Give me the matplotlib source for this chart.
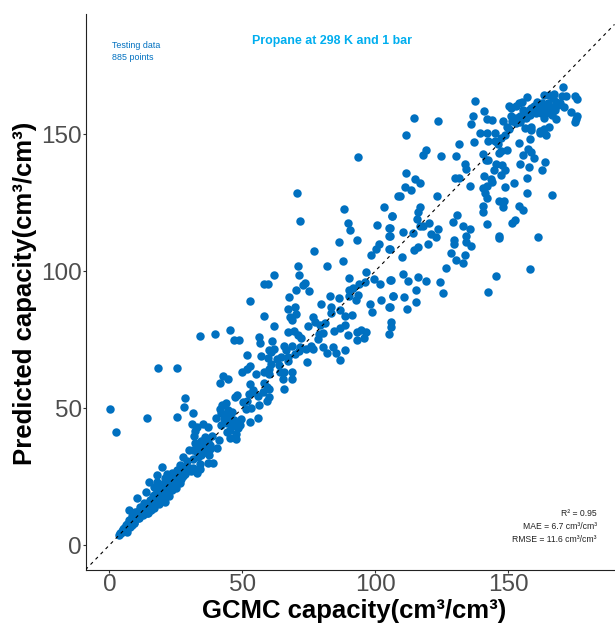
import matplotlib
matplotlib.use('Agg')
import matplotlib.pyplot as plt

plt.rcParams['font.family'] = ['Liberation Sans', 'DejaVu Sans']

# high capacity part
gcmc_high = [170.7,137.5,141.1,136.7,136.2,114.5,123.5,111.4,141.9,144,147.9,139.4,142.2,145,148.7,147.5,137,131.6,142.5,145,146.2,154.1,158.1,149.4,147.5,146.5,119.1,118.1,124.9,130.4,140.5,141.6,142.6,157.4,158.5,155.5,159.9,164,154.4,157.9,162.6,133.6,134.2,145.5,147.7,144.6,149,147.2,141,111.5,115,116.9,129.9,131.6,143.7,143.9,157,152.1,148.9,135.5,141.9,140.5,141.2,142,157.2,166.4,111.1,113.4,109.2,123.4,146.4,148.6,148.2,140.7,140.4,154.1,155.6,116.9,116,106.4,115.6,130.9,129.4,120.1,117,118,133.2,135.5,141.9,152.5,151.5,123.5,110.4,114.2,121.1,122.7,134.1,134,136.2,129.5,129.5,119.7,146.5,146.6,161.4,116,114.7,110.2,128.5,133.6,130.5,132.9,126.5,158.1,145.4,110.4,115.9,112.4,119.2,124.5,105.9,115.2,125.4,142.4,106.6,111,115.2,112.1,105.6,105.6,105.6,105.6]
pred_high = [167,162.1,158.4,156.5,153.7,155.8,154.8,149.7,155.4,155.3,154.9,150.3,150.2,150.2,149.7,148.5,147.1,146.5,147.4,147.6,146.4,146.9,148.1,144.2,143.8,143,144.3,142.4,142.1,142,142.6,140.7,140.4,144.4,143.6,142.5,141.4,139.8,139.1,137.8,137,138.9,137.4,139.1,138.7,137,137,135,134.8,135.7,133.7,132.2,134.1,134.1,133.5,132.4,133.9,132.3,130.8,130.9,131.1,130.3,128.6,126.8,128.4,127.9,130.5,129.4,127.5,127.3,125.5,125.7,123.5,123.9,121.6,123.8,122.4,123.3,121.7,120.1,118.9,120.5,118,117.6,116.6,116.6,116.6,115.5,117.1,118.8,117.7,115.5,114.2,113.9,113.5,112.3,112.8,110.6,109.3,111.2,109.9,109.9,112.9,112,112.5,108.7,107.6,105.2,106.5,105.9,103.9,103,101.1,100.9,98.3,98.8,97.7,96.5,96.4,95.9,96.6,93.2,92,92.4,90.9,90.4,88.7,86.3,87,115.6,112.9,108]

# top right cluster
gcmc_top = [157.1,150.2,151.2,152.9,154.1,155.1,163.5,165.4,167.4,170.4,171.9,175.2,175.9,160.9,162.9,166.9,168.1,168.7,170.9,173.7,176,175.4,175,159.6,161.5,163.7,165.6,167.5,155.6,157.7,160.1,162.5,164.4,166.6,168.1,163.5,160.6,158.1,156.2,154.4,151.2,152.5,151.6,153.1,154.6,156.6,149.7,150.4,156.5,158.7,158.7,161.9,163.4,165.4,164.4,161.9,169.4,165,158.7,153.1,154.9,161.9,164.4,166.2]
pred_top = [163.4,160.4,159.4,160.3,161.2,161.8,164.2,164.2,164.6,163.7,164,163.7,162.6,161.8,161.5,163.1,161.8,160.6,159.8,158.2,156.4,155.4,154.5,160.3,159.8,159.4,158.2,158.8,158.6,158.6,158.2,157.8,157.6,157,155.5,155.8,157.6,157,157,156.4,156.4,155.2,154.8,154.2,154.5,155.8,152.7,151.7,152.1,152.5,151.3,151.1,151.7,152.7,149.7,150.5,161.2,161.2,159.4,155.8,155.4,158.8,158.8,160]

# middle part
gcmc_mid = [93.6,70.6,108.7,88.3,103.3,106.2,71.8,89.8,100.7,105,90.5,105,86.5,93.1,101.3,100.3,105,76.8,98.5,87.7,71.1,82,62.1,71.3,96.6,90.2,58.3,59.6,73.7,73,96,93.8,99.5,101.8,105.5,70.3,75.2,90.1,91.6,67.7,83.1,86.3,93.7,90.2,92.6,102.3,106.5,52.8,79.6,67.3,69.7,83.2,86.8,98.2,105.3,98.6,83.5,70.2,58.3,67.8,68.7,88.5,91.1,76.7,77.5,81.1,79.2,74.6,62,105.8,106,88.6,86.8,84.6,67.3,69.6,80.3,78.7,89.8,93.1,94.6,96.6,105.3,45.5,39.6,34.2,56.3,71.1,72,78.3,93.3,95.6,46.9,48.7,56.8,61.2,65.7,68.7,71.8,74,75.8,76.6,80.3,84,88.6,66.5,60.2,62,60.8,69.7,71.2,81.8,85.2,51.6,57.2,59.5,86.7,63.2,64.7,67.3,67.2,74.5,63.8,60.9,52.8,51.7,50,60.2,58,59.9,64,65.6,68.5,55.1,42.8,44.5,65.3,68.5,41.7,52.8,58.2,59.2,65.7,54.2,60.2]
pred_mid = [141.6,128.6,127.5,122.7,123.3,120.2,118.4,117.7,116.8,115.6,115,112.9,110.7,111.2,109.9,108,108.2,107.2,105.8,103.6,102,101.7,98.7,98.5,99.7,97.6,95.3,95.2,95.5,95,95.9,95.4,97,95.2,96.6,93.2,92.6,93.1,93.9,90.6,90.9,90.1,91.3,90.9,89.6,89.5,90.9,89.2,87.9,86.2,86.7,87,85.8,87.9,87,85.1,84.6,84.3,83.7,83.1,82.2,83.7,83.9,83.1,81.3,80.9,80.3,80.1,79.8,81.4,79.5,80.4,79.2,78.1,77.9,78.3,77.4,77,76.8,77.9,78.6,77.9,77.2,78.4,77.1,76.4,76.1,76.6,75.5,75.1,75,75.5,74.7,74.7,73.6,74.4,72.7,72.8,72.2,71.7,72.5,71.4,72.1,72.4,71.3,71.2,71.2,71.6,70.4,69.9,70.7,70.1,70,69.3,68.9,68.3,67.7,67.9,68.5,67.3,68.8,66.7,65.7,66.2,65.4,64.3,63.3,64.3,63.1,62.6,63.3,63.1,63.2,62.6,61.8,60.5,60.6,60.7,59,58.9,59,57.6,57,56.6,57.1]

# low capacity part
gcmc_low = [18.3,25.3,0.4,2.5,14.3,28.6,28.1,31.3,25.6,31,32.9,35.3,37,40,41.5,43.8,42.5,44.5,46,42,43.5,45.4,47,49.4,52.9,55.8,42,44.1,46,49.1,48.3,44.1,47.5,45.4,47.5,41.3,47.9,47.4,50.1,51.9,51.3,53.1,56.4,52.6,54.1,56,59.1,60,57.6,32.3,32,35.8,38.5,37,35.4,34.1,37.9,40.6,32.3,29.8,31.6,36,34.8,37.5,27.5,29.1,31.6,33.5,37,38.9,34.1,26.6,29.8,31.6,34.1,30.6,32.9,19.6,25.4,27.6,17.9,14.8,21.6,23.5,26,20.8,22.9,24.5,26.4,25,23.5,22.5,21,17.9,19.1,21,16.6,13.9,17.9,19.8,16.6,10.3,15.4,18.5,12.9,16,18.8,14.1,11.6,16.6,14.5,7.4,9.8,12.3,8.5,11,7.3,9.1,6.3,7.9,5,6.8,3.5,4.5,5.4]
pred_low = [64.5,64.6,49.5,41.4,46.3,53.7,50.4,48.1,46.7,44,43.1,44.1,43.1,46.5,49.5,51.7,51,49.3,48.7,48.1,47.5,46.6,45.7,46,44.9,46.3,43.8,44.4,43.6,43.8,42.6,41.4,40.4,39.2,38.6,38.4,54.8,53.9,52.3,52.6,49.7,49.9,51.1,55,55.8,54.5,52.7,54.2,56,41.8,39.8,39.6,39.8,37.7,37.1,36,36.5,35.5,37.1,34.7,34.7,34.1,33.7,32.9,32.3,30.5,31.3,32.3,29.8,30.1,29.6,29.2,28,28,27.6,26.9,26.4,28.6,27.4,25.2,25.5,23.1,25.8,26.2,26.2,24.4,23.8,24.4,22.5,20.7,20.1,18,15.6,23.1,21.9,20.7,21.3,19.3,19.5,18.9,18.3,17.1,16.5,17.1,15.5,15.2,15,14,14,13.4,11.6,12.8,12.2,11.8,10.6,9.8,9.2,8,7.3,6.7,5.8,4.9,3.7,4.3,6.1]

# filling of the dense stretch along the diagonal
gcmc_dense = [4,4.8,5.6,6.2,7,7.6,8.2,8.9,9.5,10,10.7,11.3,12,12.6,13.2,13.8,14.6,15.2,15.9,16.4,17.2,18,18.6,19.2,20,20.6,21.4,22,22.8,23.2,24,32.5,33.4,34.4,35.2,36.2,34.6,33,36.8,35.6,38,43,44.8,46.4,48,45.2,6.6,7.8,9.2,10.2,11.6,12.8,14,15,16.2,17.4,18.4,19.6,20.4,21.8,23,24.4,25.6,27,28.4,29,30,8.6,10.4,13.4,15.6,17.8,19.4,22.2,26.6,28]
pred_dense = [4.4,5,5.4,6.6,7.4,7.2,9,8.6,10.4,11,10,12.4,11.4,13.6,12.4,15,13.8,16.2,14.6,17.8,16,19,17.6,20.6,18.6,22.8,20,24,22,25,23,35,36.4,38,36.8,39,33,33.8,37.4,35.4,35,46,47,44.8,44,42,7.8,8,8.2,10.2,12.6,10.8,11.6,14.6,14.2,15.8,17,16.6,19.2,21,20.8,22,23.2,24,26,27,28.2,7.4,12,14.6,12.8,18.2,22,18.8,24.2,28.4]

x_ticks = [0, 50, 100, 150]
y_ticks = [0, 50, 100, 150]

gcmc = gcmc_high + gcmc_top + gcmc_mid + gcmc_low + gcmc_dense
pred = pred_high + pred_top + pred_mid + pred_low + pred_dense

fig = plt.figure(figsize=(6.15, 6.23), dpi=100)
ax = fig.add_axes([85.5 / 615, 53 / 623, 529.5 / 615, 556 / 623])

ax.scatter(gcmc, pred, s=37, color='#0070C0', linewidths=0, zorder=2)
ax.plot([-9, 190], [-9, 190], color='black', lw=0.8, ls=(0, (3, 3.5)), zorder=3)

ax.set_xlim(-9, 190.2)
ax.set_ylim(-9.1, 193.8)
ax.set_xticks(x_ticks)
ax.set_yticks(y_ticks)
ax.tick_params(labelsize=17.5, labelcolor='#4D4D4D', color='#333333', length=2.2, width=0.8, pad=0.5)
ax.tick_params(axis='x', pad=1)
ax.spines['top'].set_visible(False)
ax.spines['right'].set_visible(False)
ax.spines['left'].set_color('#222222')
ax.spines['bottom'].set_color('#222222')

fig.text(354 / 615, 1 - 611 / 623, 'GCMC capacity(cm³/cm³)', fontsize=18.5, fontweight='bold', ha='center', va='center')
fig.text(25 / 615, 1 - 293 / 623, 'Predicted capacity(cm³/cm³)', fontsize=18.5, fontweight='bold',
         rotation=90, ha='center', va='center')

fig.text(112 / 615, 1 - 45 / 623, 'Testing data', fontsize=6.4, color='#0070C0', va='center')
fig.text(112 / 615, 1 - 57.5 / 623, '885 points', fontsize=6.4, color='#0070C0', va='center')
fig.text(332.5 / 615, 1 - 41 / 623, 'Propane at 298 K and 1 bar', fontsize=8.9, fontweight='bold',
         color='#00AEEF', ha='center', va='center')

fig.text(597 / 615, 1 - 514 / 623, 'R² = 0.95', fontsize=6.2, color='#222222', ha='right', va='center')
fig.text(597 / 615, 1 - 526.5 / 623, 'MAE = 6.7 cm³/cm³', fontsize=6.2, color='#222222', ha='right', va='center')
fig.text(597 / 615, 1 - 539 / 623, 'RMSE = 11.6 cm³/cm³', fontsize=6.2, color='#222222', ha='right', va='center')

fig.savefig('out.png', dpi=100)
